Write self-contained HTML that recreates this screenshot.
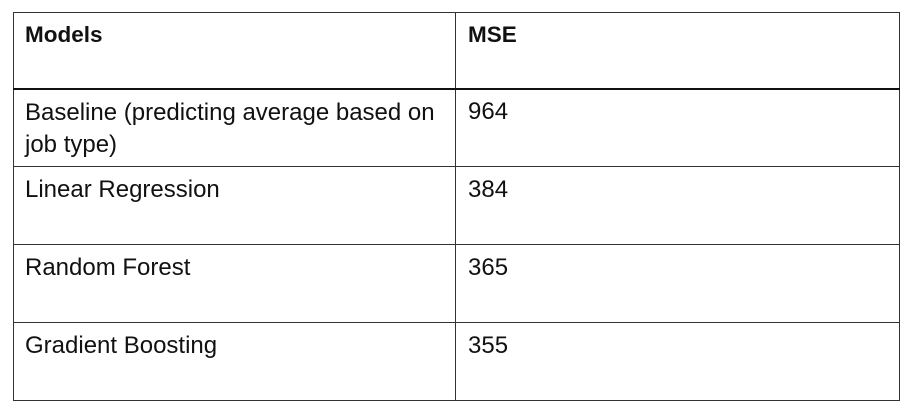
<!DOCTYPE html>
<html><head><meta charset="utf-8"><style>
body{margin:0;width:917px;height:418px;background:#fff;position:relative;overflow:hidden;font-family:"Liberation Sans",sans-serif;color:#111}
.l{position:absolute;background:#333}
.t{position:absolute;font-size:24px;line-height:30px;white-space:nowrap}
.b{font-weight:bold;font-size:22.5px}
</style></head><body>
<div>
<div class="l" style="left:13px;top:12px;width:887px;height:1px"></div>
<div class="l" style="left:13px;top:400px;width:887px;height:1px"></div>
<div class="l" style="left:13px;top:12px;width:1px;height:389px"></div>
<div class="l" style="left:899px;top:12px;width:1px;height:389px"></div>
<div class="l" style="left:455px;top:12px;width:1px;height:389px"></div>
<div class="l" style="left:13px;top:88px;width:887px;height:2px;background:#111"></div>
<div class="l" style="left:13px;top:166px;width:887px;height:1px"></div>
<div class="l" style="left:13px;top:244px;width:887px;height:1px"></div>
<div class="l" style="left:13px;top:322px;width:887px;height:1px"></div>

<div class="t b" style="left:25px;top:20px">Models</div>
<div class="t b" style="left:468px;top:20px">MSE</div>

<div class="t" style="left:25px;top:97px;line-height:32px">Baseline (predicting average based on<br>job type)</div>
<div class="t" style="left:468px;top:97px">964</div>
<div class="t" style="left:25px;top:175px">Linear Regression</div>
<div class="t" style="left:468px;top:175px">384</div>
<div class="t" style="left:25px;top:253px">Random Forest</div>
<div class="t" style="left:468px;top:253px">365</div>
<div class="t" style="left:25px;top:331px">Gradient Boosting</div>
<div class="t" style="left:468px;top:331px">355</div>
</div>
</body></html>
